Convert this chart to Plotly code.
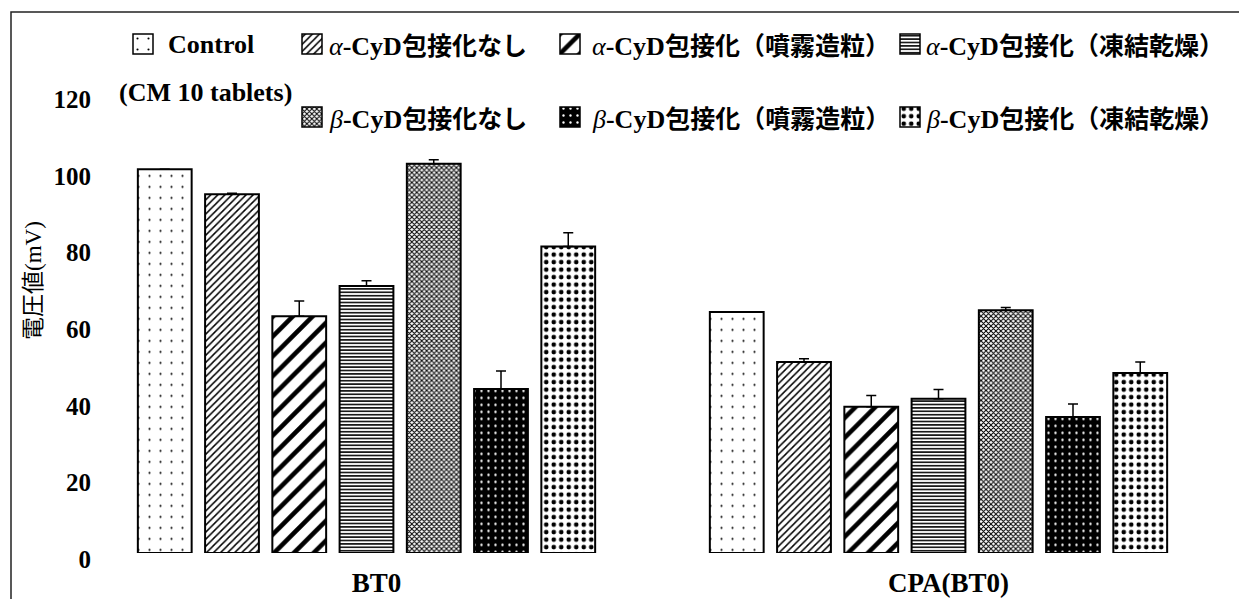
import plotly.graph_objects as go

# ---- data -------------------------------------------------------------
categories = ["BT0", "CPA(BT0)"]

series_names = [
    "Control",
    "α-CyD包接化なし",
    "α-CyD包接化（噴霧造粒）",
    "α-CyD包接化（凍結乾燥）",
    "β-CyD包接化なし",
    "β-CyD包接化（噴霧造粒）",
    "β-CyD包接化（凍結乾燥）",
]

control_vals = [100.2, 62.9]
a_none_vals = [93.7, 49.9]
a_spray_vals = [61.8, 38.2]
a_freeze_vals = [69.7, 40.3]
b_none_vals = [101.6, 63.4]
b_spray_vals = [42.8, 35.5]
b_freeze_vals = [80.0, 47.0]

control_err = [0.0, 0.0]
a_none_err = [0.2, 0.8]
a_spray_err = [4.0, 2.9]
a_freeze_err = [1.4, 2.4]
b_none_err = [1.1, 0.7]
b_spray_err = [4.7, 3.4]
b_freeze_err = [3.6, 2.9]

y_ticks = [0, 20, 40, 60, 80, 100, 120]

# ---- styling ----------------------------------------------------------
W, H = 1239, 599
SERIF = "Liberation Serif"
JP = "Noto Sans CJK JP"
MIXED = f"{SERIF}, {JP}"

# fill patterns, one per series
patterns = [
    dict(shape=".", fgcolor="black", bgcolor="white", size=11, solidity=0.03),
    dict(shape="/", fgcolor="black", bgcolor="white", size=5, solidity=0.3),
    dict(shape="/", fgcolor="black", bgcolor="white", size=14, solidity=0.33),
    dict(shape="-", fgcolor="black", bgcolor="white", size=3.4, solidity=0.45),
    dict(shape="x", fgcolor="black", bgcolor="white", size=3.5, solidity=0.5),
    dict(shape=".", fgcolor="white", bgcolor="black", size=7, solidity=0.09),
    dict(shape=".", fgcolor="black", bgcolor="white", size=7.5, solidity=0.3),
]

values = [control_vals, a_none_vals, a_spray_vals, a_freeze_vals,
          b_none_vals, b_spray_vals, b_freeze_vals]
errors = [control_err, a_none_err, a_spray_err, a_freeze_err,
          b_none_err, b_spray_err, b_freeze_err]

# plot-area placement in pixels
PLOT_L, PLOT_R = 100, 1232
PLOT_B, PLOT_T = 553, 93.4
CAT0_PX, CAT_STEP_PX = 366.5, 572.0

fig = go.Figure()

for name, vals, errs, pat in zip(series_names, values, errors, patterns):
    fig.add_trace(go.Bar(
        name=name,
        x=categories,
        y=vals,
        marker=dict(color=pat["bgcolor"], pattern=pat,
                    line=dict(color="black", width=2)),
        error_y=dict(type="data", symmetric=False, array=errs,
                     arrayminus=[0] * len(errs), color="black",
                     thickness=1.5, width=5),
        showlegend=False,
        xaxis="x", yaxis="y",
    ))

# ---- legend (swatches on a pixel-space overlay axis) -------------------
ROW1_Y, ROW2_Y = 44, 117
SW = 20
legend_items = [
    # (swatch centre x, row y, text x)
    (143, ROW1_Y, 166),
    (312, ROW1_Y, 327),
    (570, ROW1_Y, 590),
    (910, ROW1_Y, 924),
    (312, ROW2_Y, 327),
    (570, ROW2_Y, 590),
    (910, ROW2_Y, 924),
]

for pat, (sx, sy, tx) in zip(patterns, legend_items):
    fig.add_trace(go.Bar(
        x=[sx], y=[SW], base=[sy - SW / 2],
        width=[SW], offset=-SW / 2,
        marker=dict(color=pat["bgcolor"], pattern=pat,
                    line=dict(color="black", width=1.5)),
        showlegend=False, hoverinfo="skip",
        xaxis="x2", yaxis="y2",
    ))


def legend_label(name):
    if name == "Control":
        return "Control"
    greek, rest = name[0], name[1:]
    dash_part, jp_part = rest[:4], rest[4:]
    return (f'<span style="font-weight:normal"><i>{greek}</i></span>'
            f'{dash_part}<span style="font-family:{JP};font-size:25px">'
            f'{jp_part}</span>')


annotations = []
for name, (sx, sy, tx) in zip(series_names, legend_items):
    annotations.append(dict(
        x=tx, y=sy, xref="x2", yref="y2", text=legend_label(name),
        showarrow=False, xanchor="left", yanchor="middle",
        font=dict(family=MIXED, size=26, color="black", weight="bold"),
    ))

annotations.append(dict(
    x=117, y=92, xref="x2", yref="y2", text="(CM 10 tablets)",
    showarrow=False, xanchor="left", yanchor="middle",
    font=dict(family=SERIF, size=26, color="black", weight="bold"),
))

# y-axis title
annotations.append(dict(
    x=33, y=281, xref="x2", yref="y2", text="電圧値(mV)", textangle=-90,
    showarrow=False, xanchor="center", yanchor="middle",
    font=dict(family=MIXED, size=23, color="black"),
))

fig.update_layout(
    width=W, height=H,
    margin=dict(l=0, r=0, t=0, b=0),
    paper_bgcolor="white", plot_bgcolor="rgba(0,0,0,0)",
    barmode="group", bargap=0.177, bargroupgap=0.2,
    template="none",
    annotations=annotations,
    xaxis=dict(
        domain=[PLOT_L / W, PLOT_R / W],
        range=[(PLOT_L - CAT0_PX) / CAT_STEP_PX, (PLOT_R - CAT0_PX) / CAT_STEP_PX],
        type="category", showgrid=False, showline=False, zeroline=False,
        ticks="", ticklabelstandoff=11, ticklabelshift=10,
        tickfont=dict(family=SERIF, size=27, color="black", weight="bold"),
        automargin=False,
    ),
    yaxis=dict(
        domain=[(H - PLOT_B) / H, (H - PLOT_T) / H],
        range=[0, 120], tickvals=y_ticks,
        showgrid=False, showline=False, zeroline=False, ticks="",
        ticklabelstandoff=8, ticklabelshift=6,
        tickfont=dict(family=SERIF, size=25, color="black", weight="bold"),
        automargin=False,
    ),
    xaxis2=dict(domain=[0, 1], range=[0, W], visible=False, fixedrange=True),
    yaxis2=dict(domain=[0, 1], range=[H, 0], visible=False, fixedrange=True),
    shapes=[dict(
        type="rect", xref="paper", yref="paper",
        x0=11 / W, x1=1.05, y0=-0.05, y1=(H - 12) / H,
        line=dict(color="#222", width=1.5), layer="below",
    )],
    showlegend=False,
)

fig.write_html("out.html")
